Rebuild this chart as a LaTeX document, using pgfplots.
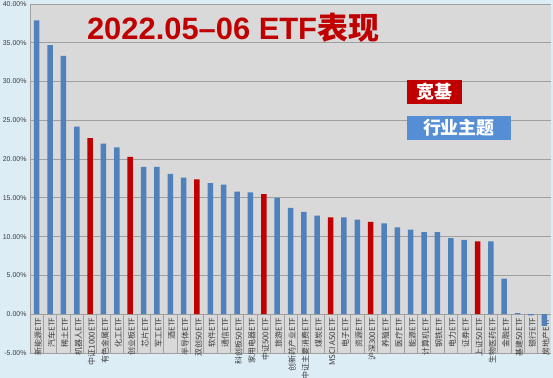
\documentclass[border=0pt]{standalone}
\usepackage{fontspec}
\setmainfont{Liberation Sans}
\newfontfamily\cjk{Noto Sans CJK SC}
\usepackage{pgfplots}
\pgfplotsset{compat=1.18}
\definecolor{bgblue}{RGB}{221,237,246}
\definecolor{plotgray}{RGB}{217,217,217}
\definecolor{gridgray}{RGB}{160,160,160}
\definecolor{barblue}{RGB}{79,129,189}
\definecolor{barred}{RGB}{192,0,0}
\definecolor{legblue}{RGB}{85,142,213}
\definecolor{ticktext}{RGB}{60,60,60}
\begin{document}
\begin{tikzpicture}
\fill[bgblue] (0,0) rectangle (553bp,378bp);
\begin{axis}[
 at={(30bp,25bp)}, anchor=south west,
 scale only axis, width=521bp, height=349bp,
 xmin=-0.5, xmax=38.5, ymin=-5, ymax=40,
 axis x line=middle, axis y line=left,
 axis line style={-, draw=gridgray, line width=0.8bp},
 axis background/.style={fill=plotgray},
 ymajorgrids, grid style={gridgray, line width=0.8bp},
 ytick={-5,0,...,40},
 /pgf/number format/assume math mode=true,
 yticklabel={\pgfmathprintnumber[fixed,fixed zerofill,precision=2]{\tick}\%},
 yticklabel style={font=\fontsize{7}{7}\selectfont, text=ticktext},
 xtick={0,...,38},
 xticklabels={新能源ETF,汽车ETF,稀土ETF,机器人ETF,中证1000ETF,有色金属ETF,化工ETF,创业板ETF,芯片ETF,军工ETF,酒ETF,半导体ETF,双创50ETF,软件ETF,通信ETF,科创板50ETF,家用电器ETF,中证500ETF,旅游ETF,创新药产业ETF,中证主要消费ETF,煤炭ETF,MSCI A50ETF,电子ETF,资源ETF,沪深300ETF,养殖ETF,医疗ETF,能源ETF,计算机ETF,钢铁ETF,电力ETF,证券ETF,上证50ETF,生物医药ETF,金融ETF,基建50ETF,银行ETF,房地产ETF},
 xticklabel style={rotate=90, anchor=east, font=\cjk\fontsize{8}{8}\selectfont, text=ticktext, yshift=-1.5bp},
 major tick length=0pt,
 hide obscured x ticks=false, hide obscured y ticks=false,
 clip=false,
]
\addplot[ycomb, draw=gridgray, line width=0.6bp, no marks] coordinates {
(0.5,-5)(1.5,-5)(2.5,-5)(3.5,-5)(4.5,-5)(5.5,-5)(6.5,-5)(7.5,-5)(8.5,-5)(9.5,-5)
(10.5,-5)(11.5,-5)(12.5,-5)(13.5,-5)(14.5,-5)(15.5,-5)(16.5,-5)(17.5,-5)(18.5,-5)(19.5,-5)
(20.5,-5)(21.5,-5)(22.5,-5)(23.5,-5)(24.5,-5)(25.5,-5)(26.5,-5)(27.5,-5)(28.5,-5)(29.5,-5)
(30.5,-5)(31.5,-5)(32.5,-5)(33.5,-5)(34.5,-5)(35.5,-5)(36.5,-5)(37.5,-5)};
\addplot[ybar, bar width=5.5bp, bar shift=0pt, fill=barblue, draw=none] coordinates {
(0,37.9)(1,34.7)(2,33.3)(3,24.2)(5,22.0)(6,21.5)(8,19.0)(9,19.0)(10,18.1)(11,17.6)
(13,16.9)(14,16.7)(15,15.8)(16,15.7)(18,15.0)(19,13.7)(20,13.2)(21,12.7)(23,12.5)(24,12.2)
(26,11.7)(27,11.2)(28,10.9)(29,10.6)(30,10.6)(31,9.8)(32,9.6)(34,9.4)(35,4.6)(36,0.15)(37,-0.15)(38,-1.5)};
\addplot[ybar, bar width=5.5bp, bar shift=0pt, fill=barred, draw=none] coordinates {
(4,22.7)(7,20.3)(12,17.4)(17,15.5)(22,12.5)(25,11.9)(33,9.4)};
\end{axis}
\node[text=barred, font=\bfseries\fontsize{31}{31}\selectfont] at (233bp,350bp) {2022.05–06 ETF{\cjk\bfseries 表现}};
\node[fill=barred, text=white, font=\cjk\bfseries\fontsize{18}{18}\selectfont, minimum width=55.6bp, minimum height=24.3bp, inner sep=0pt] at (434.5bp,285.85bp) {宽基};
\node[fill=legblue, text=white, font=\cjk\bfseries\fontsize{18}{18}\selectfont, minimum width=104.3bp, minimum height=24.3bp, inner sep=0pt] at (458.9bp,250.15bp) {行业主题};
\pgfresetboundingbox
\path[use as bounding box] (0,0) rectangle (553bp,378bp);
\end{tikzpicture}
\end{document}
